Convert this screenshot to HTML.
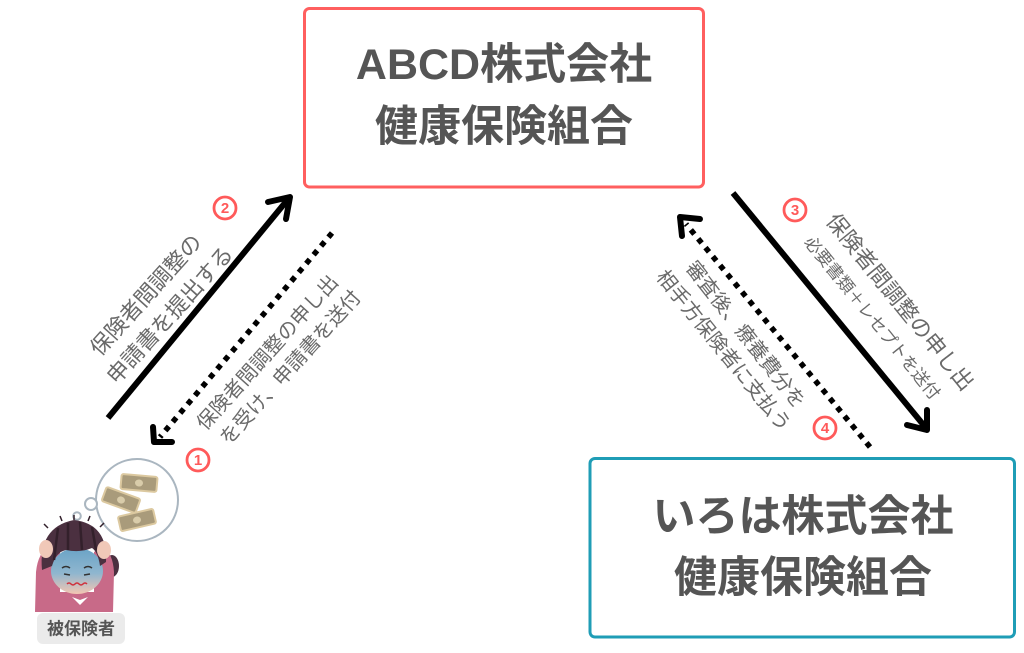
<!DOCTYPE html>
<html><head><meta charset="utf-8"><style>
html,body{margin:0;padding:0;background:#fff;width:1024px;height:653px;overflow:hidden}
svg{display:block}
.t{font-family:"Liberation Sans","Noto Sans CJK JP",sans-serif;fill:#555;font-weight:bold}
.l{font-family:"Liberation Sans","Noto Sans CJK JP",sans-serif;fill:#6a6a6a}
.n{font-family:"Liberation Sans",sans-serif;fill:#ff5a5a;font-weight:bold;font-size:15px}
</style></head><body>
<svg width="1024" height="653" viewBox="0 0 1024 653" xmlns="http://www.w3.org/2000/svg">
<defs>
<linearGradient id="fg" x1="0" y1="0" x2="0" y2="1">
<stop offset="0" stop-color="#6aa3c6"/><stop offset="0.55" stop-color="#8fb6cf"/><stop offset="1" stop-color="#f3c6b2"/>
</linearGradient>
</defs>
<!-- boxes -->
<rect x="304.5" y="8.5" width="399" height="178.5" rx="5" fill="#fff" stroke="#ff5f5f" stroke-width="3"/>
<text class="t" x="504" y="65" font-size="43" text-anchor="middle" dominant-baseline="central">ABCD株式会社</text>
<text class="t" x="504" y="127" font-size="43" text-anchor="middle" dominant-baseline="central">健康保険組合</text>
<rect x="590" y="458.5" width="424.5" height="178.5" rx="5" fill="#fff" stroke="#1f9db6" stroke-width="3"/>
<text class="t" x="803" y="517" font-size="43" text-anchor="middle" dominant-baseline="central">いろは株式会社</text>
<text class="t" x="803" y="578" font-size="43" text-anchor="middle" dominant-baseline="central">健康保険組合</text>

<!-- left solid arrow -->
<line x1="108" y1="418" x2="289" y2="198" stroke="#000" stroke-width="6"/>
<polyline points="268,202 290,197 286,219" fill="none" stroke="#000" stroke-width="6" stroke-linecap="round" stroke-linejoin="round"/>
<!-- left dotted arrow -->
<line x1="332" y1="233" x2="160" y2="437" stroke="#000" stroke-width="5.5" stroke-dasharray="5.5 6"/>
<polyline points="153,427 154,442 172,442" fill="none" stroke="#000" stroke-width="6" stroke-linecap="round" stroke-linejoin="round"/>
<!-- right solid arrow -->
<line x1="733" y1="193" x2="926" y2="428" stroke="#000" stroke-width="6"/>
<polyline points="927,410 927,430 907,425" fill="none" stroke="#000" stroke-width="6" stroke-linecap="round" stroke-linejoin="round"/>
<!-- right dotted arrow -->
<line x1="870" y1="447" x2="686" y2="224" stroke="#000" stroke-width="5.5" stroke-dasharray="5.5 6"/>
<polyline points="700,219 680,217 682,236" fill="none" stroke="#000" stroke-width="6" stroke-linecap="round" stroke-linejoin="round"/>

<!-- left labels -->
<text class="l" font-size="22" text-anchor="middle" dominant-baseline="central" transform="translate(146,295) rotate(-48)">保険者間調整の</text>
<text class="l" font-size="22" text-anchor="middle" dominant-baseline="central" transform="translate(170,315) rotate(-48)">申請書を提出する</text>
<text class="l" font-size="20" text-anchor="middle" dominant-baseline="central" transform="translate(268,353) rotate(-48)">保険者間調整の申し出</text>
<text class="l" font-size="20" text-anchor="middle" dominant-baseline="central" transform="translate(291,368) rotate(-48)">を受け、申請書を送付</text>
<!-- right labels -->
<text class="l" font-size="22" text-anchor="middle" dominant-baseline="central" transform="translate(900,302) rotate(51)">保険者間調整の申し出</text>
<text class="l" font-size="17" text-anchor="middle" dominant-baseline="central" transform="translate(872,318) rotate(51)">必要書類＋レセプトを送付</text>
<text class="l" font-size="20" text-anchor="middle" dominant-baseline="central" transform="translate(745,335) rotate(52)">審査後、療養費分を</text>
<text class="l" font-size="20" text-anchor="middle" dominant-baseline="central" transform="translate(723,351) rotate(51)">相手方保険者に支払う</text>

<!-- circled numbers -->
<g fill="#fff" stroke="#ff5a5a" stroke-width="2.8">
<circle cx="225" cy="208" r="11"/><circle cx="198" cy="460" r="11"/>
<circle cx="795" cy="210" r="11"/><circle cx="825" cy="428" r="11"/>
</g>
<text class="n" x="225" y="208.5" text-anchor="middle" dominant-baseline="central">2</text>
<text class="n" x="198" y="460.5" text-anchor="middle" dominant-baseline="central">1</text>
<text class="n" x="795" y="210.5" text-anchor="middle" dominant-baseline="central">3</text>
<text class="n" x="825" y="428.5" text-anchor="middle" dominant-baseline="central">4</text>

<!-- thought bubble -->
<circle cx="137" cy="500" r="41" fill="#fff" stroke="#aab6c0" stroke-width="2"/>
<circle cx="91" cy="504" r="6" fill="#fff" stroke="#aab6c0" stroke-width="2"/>
<circle cx="77" cy="516" r="3.8" fill="#fff" stroke="#aab6c0" stroke-width="2"/>
<g stroke="#dcc9a0" stroke-width="2">
<g transform="translate(139,483) rotate(5)"><rect x="-18" y="-7.5" width="36" height="15" rx="2" fill="#a99b7b"/><ellipse cx="0" cy="0" rx="4" ry="3.5" fill="#d9ccaa" stroke="none"/></g>
<g transform="translate(121,500) rotate(20)"><rect x="-18" y="-7.5" width="36" height="15" rx="2" fill="#a99b7b"/><ellipse cx="0" cy="0" rx="4" ry="3.5" fill="#d9ccaa" stroke="none"/></g>
<g transform="translate(137,520) rotate(-13)"><rect x="-18" y="-7.5" width="36" height="15" rx="2" fill="#a99b7b"/><ellipse cx="0" cy="0" rx="4" ry="3.5" fill="#d9ccaa" stroke="none"/></g>
</g>

<!-- person -->
<ellipse cx="112" cy="566" rx="7" ry="11" fill="#4b3040"/>
<path d="M35,612 L36,572 Q38,552 50,546 L60,552 L60,592 L94,592 L94,552 L103,546 Q113,554 114,572 L113,612 Z" fill="#c86a88"/>
<ellipse cx="77" cy="571" rx="26" ry="23" fill="url(#fg)"/>
<path d="M42,570 Q38,527 74,520 Q108,524 106,562 L100,566 Q98,552 92,548 Q80,553 66,550 Q56,552 52,566 Z" fill="#4b3040"/>
<g stroke="#33202b" stroke-width="2.5"><line x1="58" y1="528" x2="54" y2="560"/><line x1="68" y1="523" x2="68" y2="550"/><line x1="80" y1="522" x2="82" y2="550"/><line x1="92" y1="527" x2="96" y2="550"/></g>
<g stroke="#33202b" stroke-width="1.5"><line x1="48" y1="528" x2="44" y2="524"/><line x1="74" y1="520" x2="74" y2="515"/><line x1="100" y1="527" x2="104" y2="523"/><line x1="62" y1="521" x2="60" y2="516"/><line x1="88" y1="521" x2="90" y2="516"/></g>
<ellipse cx="46" cy="549" rx="7" ry="9" fill="#f0c8b8"/>
<ellipse cx="104" cy="550" rx="7" ry="9" fill="#f0c8b8"/>
<polygon points="68,593 80,605 92,593 88,597 80,600 72,597" fill="#fff"/>
<g stroke="#333" stroke-width="1.5" fill="none"><path d="M62,568 q4,-3 8,0"/><path d="M84,568 q4,-3 8,0"/><path d="M64,574 l6,1"/><path d="M84,575 l6,-1"/></g>
<path d="M67,584 q2,-2 4,0 q2,2 4,0 q2,-2 4,0 q2,2 4,0 q2,-2 4,0" stroke="#d0303a" stroke-width="1.5" fill="none"/>
<rect x="37" y="613" width="88" height="31" rx="6" fill="#ebebeb"/>
<text class="t" x="81" y="629" font-size="17" text-anchor="middle" dominant-baseline="central">被保険者</text>
</svg>
</body></html>
